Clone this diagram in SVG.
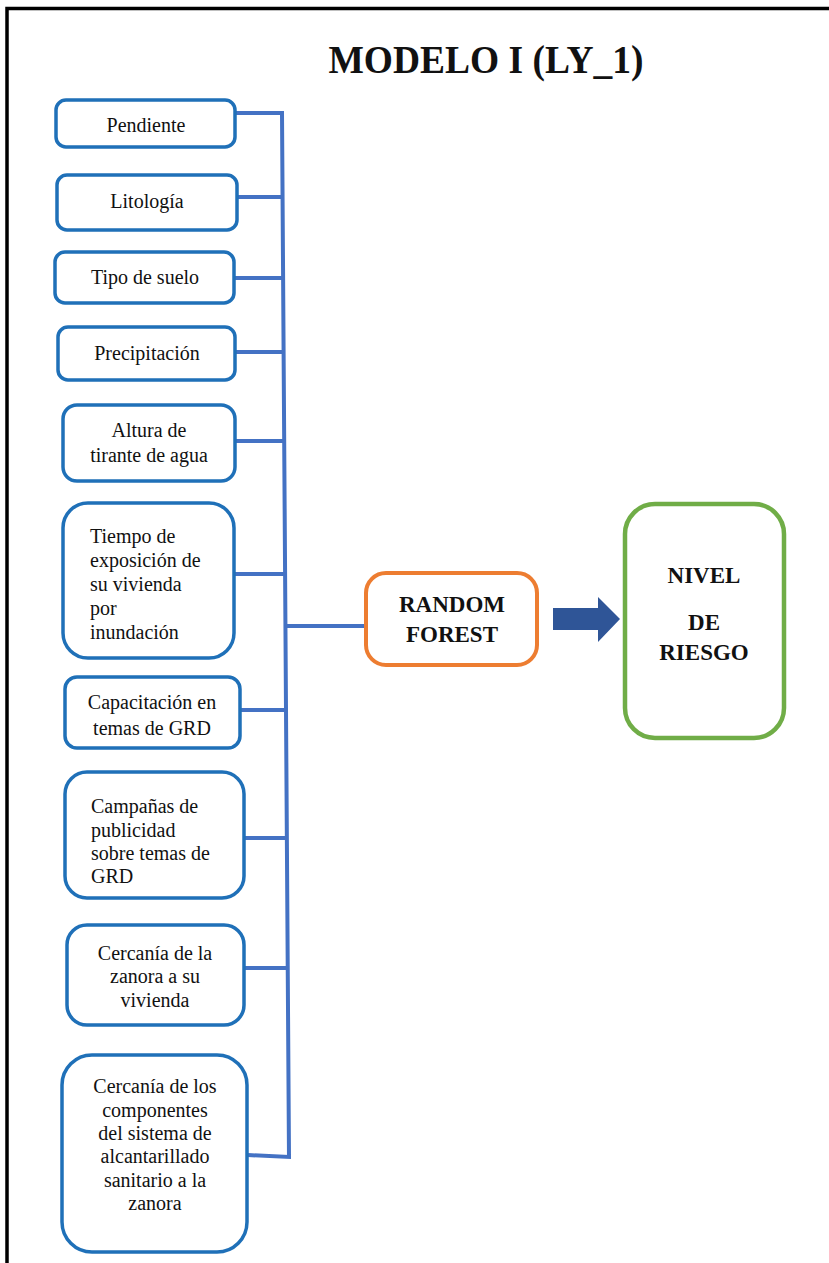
<svg xmlns="http://www.w3.org/2000/svg" width="829" height="1263" viewBox="0 0 829 1263" font-family="Liberation Serif, serif">
<style>
.in{fill:#fff;stroke:#1F70B8;stroke-width:3.5}
.t{font-family:'Liberation Serif',serif;font-size:20px;fill:#111}
.c{text-anchor:middle}
.b{font-family:'Liberation Serif',serif;font-size:23px;font-weight:bold;fill:#111;text-anchor:middle}
.ln{stroke:#4472C4;stroke-width:4;fill:none}
</style>
<rect width="829" height="1263" fill="#fff"/>
<rect x="7" y="8.5" width="900" height="1300" fill="none" stroke="#000" stroke-width="3.5"/>
<text x="486" y="73" font-family="Liberation Serif, serif" font-size="40" font-weight="bold" text-anchor="middle" textLength="315" lengthAdjust="spacingAndGlyphs" fill="#111">MODELO I (LY_1)</text>
<g id="connectors">
<polyline class="ln" points="235,113 282,113 289,1157 248,1155"/>
<line class="ln" x1="237" y1="197" x2="283" y2="197"/>
<line class="ln" x1="234" y1="278" x2="283" y2="278"/>
<line class="ln" x1="235" y1="352" x2="284" y2="352"/>
<line class="ln" x1="235" y1="441" x2="284" y2="441"/>
<line class="ln" x1="234" y1="574" x2="285" y2="574"/>
<line class="ln" x1="286" y1="626" x2="366" y2="626"/>
<line class="ln" x1="240" y1="710" x2="286" y2="710"/>
<line class="ln" x1="244" y1="838" x2="287" y2="838"/>
<line class="ln" x1="244" y1="968" x2="288" y2="968"/>
<polygon points="553,608 598,608 598,597 620,619 598,642 598,630 553,630" fill="#2F5597"/>
</g>
<g id="n1"><rect class="in" x="56" y="100" width="179" height="47" rx="10"/><text class="t c" x="146" y="132">Pendiente</text></g>
<g id="n2"><rect class="in" x="57" y="175" width="180" height="55" rx="10"/><text class="t c" x="147" y="208">Litología</text></g>
<g id="n3"><rect class="in" x="55" y="252" width="179" height="51" rx="10"/><text class="t c" x="145" y="284">Tipo de suelo</text></g>
<g id="n4"><rect class="in" x="58" y="327" width="177" height="53" rx="10"/><text class="t c" x="147" y="360">Precipitación</text></g>
<g id="n5"><rect class="in" x="63" y="405" width="172" height="76" rx="14"/><text class="t c" x="149" y="437">Altura de</text><text class="t c" x="149" y="462">tirante de agua</text></g>
<g id="n6"><rect class="in" x="63" y="503" width="171" height="155" rx="25"/>
<text class="t" x="90" y="543">Tiempo de</text><text class="t" x="90" y="567">exposición de</text><text class="t" x="90" y="591">su vivienda</text><text class="t" x="90" y="615">por</text><text class="t" x="90" y="639">inundación</text></g>
<g id="n7"><rect class="in" x="65" y="677" width="175" height="71" rx="12"/><text class="t c" x="152" y="709">Capacitación en</text><text class="t c" x="152" y="735">temas de GRD</text></g>
<g id="n8"><rect class="in" x="65" y="772" width="179" height="126" rx="22"/>
<text class="t" x="91" y="813">Campañas de</text><text class="t" x="91" y="837">publicidad</text><text class="t" x="91" y="860">sobre temas de</text><text class="t" x="91" y="883">GRD</text></g>
<g id="n9"><rect class="in" x="67" y="925" width="177" height="100" rx="20"/>
<text class="t c" x="155" y="960">Cercanía de la</text><text class="t c" x="155" y="983">zanora a su</text><text class="t c" x="155" y="1007">vivienda</text></g>
<g id="n10"><rect class="in" x="62" y="1055" width="185" height="197" rx="30"/>
<text class="t c" x="155" y="1093">Cercanía de los</text><text class="t c" x="155" y="1117">componentes</text><text class="t c" x="155" y="1140">del sistema de</text><text class="t c" x="155" y="1163">alcantarillado</text><text class="t c" x="155" y="1187">sanitario a la</text><text class="t c" x="155" y="1210">zanora</text></g>
<g id="rf"><rect x="366" y="573" width="171" height="92" rx="20" fill="#fff" stroke="#ED7D31" stroke-width="4"/>
<text class="b" x="452" y="612">RANDOM</text><text class="b" x="452" y="642">FOREST</text></g>
<g id="nivel"><rect x="625" y="504" width="159" height="234" rx="30" fill="#fff" stroke="#70AD47" stroke-width="4.5"/>
<text class="b" x="704" y="583">NIVEL</text><text class="b" x="704" y="630">DE</text><text class="b" x="704" y="660">RIESGO</text></g>
</svg>
